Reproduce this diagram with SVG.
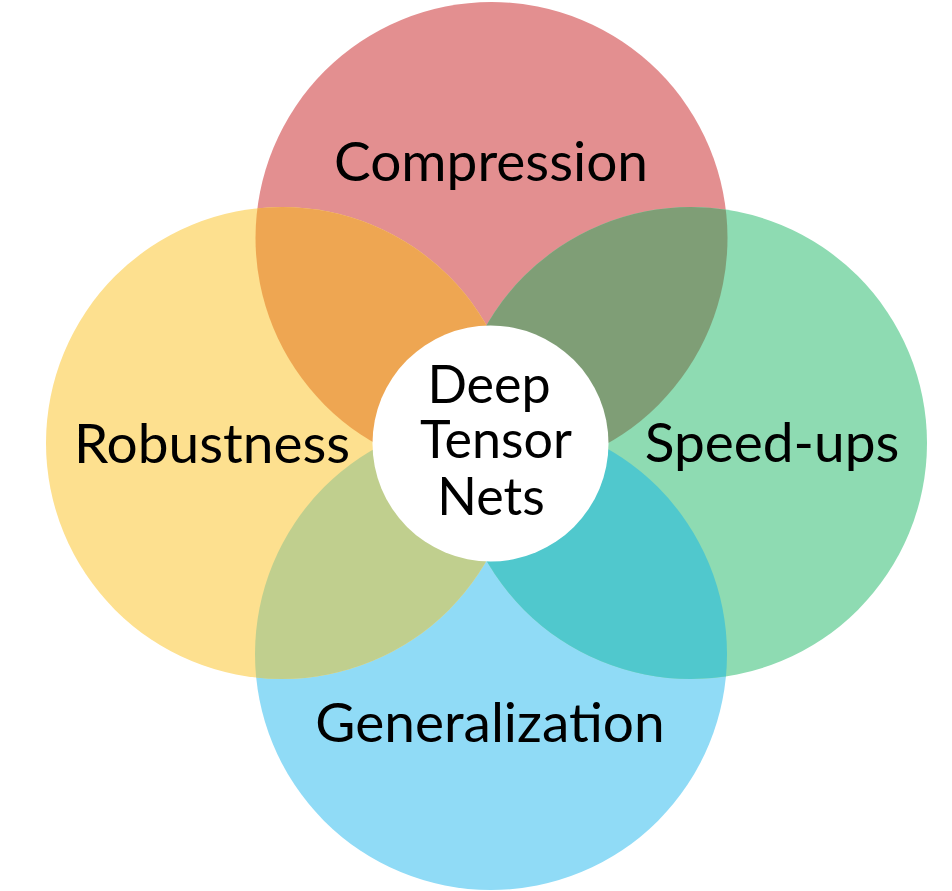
<svg xmlns="http://www.w3.org/2000/svg" width="952" height="891" viewBox="0 0 952 891">
<defs>
<clipPath id="cTop"><circle cx="491.5" cy="238" r="236"/></clipPath>
<clipPath id="cBottom"><circle cx="491" cy="654" r="236"/></clipPath>
</defs>
<style>
text{font-family:Lato,"Open Sans","Liberation Sans",sans-serif;font-size:55px;fill:#000;text-anchor:middle}
text.c{font-size:52px}
</style>
<rect width="952" height="891" fill="#ffffff"/>
<g id="compression">
<circle cx="491.5" cy="238" r="236" fill="#E38F90"/>
</g>
<g id="generalization">
<circle cx="491" cy="654" r="236" fill="#90DBF6"/>
</g>
<g id="robustness">
<circle cx="282" cy="443" r="236" fill="#FDE08F"/>
</g>
<g id="speedups">
<circle cx="691" cy="443" r="236" fill="#8EDBB2"/>
</g>
<g id="overlaps">
<g clip-path="url(#cTop)">
<circle cx="282" cy="443" r="236" fill="#EEA652"/>
<circle cx="691" cy="443" r="236" fill="#7F9E76"/>
</g>
<g clip-path="url(#cBottom)">
<circle cx="282" cy="443" r="236" fill="#C0CF8E"/>
<circle cx="691" cy="443" r="236" fill="#50C8CD"/>
</g>
</g>
<g id="labels">
<text x="491" y="181">Compression</text>
<text x="212" y="463">Robustness</text>
<text x="772" y="462">Speed-ups</text>
<text x="490" y="742">Generalization</text>
</g>
<g id="center">
<circle cx="490.5" cy="443.5" r="118" fill="#ffffff"/>
<text class="c"><tspan x="489" y="403">Deep</tspan><tspan x="496" y="458">Tensor</tspan><tspan x="491" y="515">Nets</tspan></text>
</g>
</svg>
